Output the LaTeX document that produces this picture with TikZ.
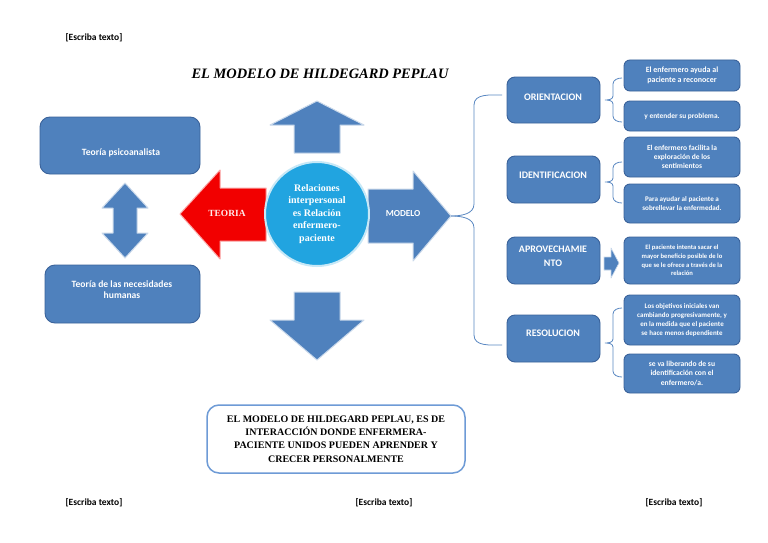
\documentclass[tikz,border=0pt]{standalone}
\usepackage{fontspec}
\setmainfont{Liberation Serif}
\newfontfamily\calfont{Carlito}
\definecolor{boxblue}{HTML}{4F81BD}
\definecolor{boxedge}{HTML}{3A629A}
\definecolor{circblue}{HTML}{21A4E0}
\definecolor{bracecol}{HTML}{5A88C2}
\definecolor{redarr}{HTML}{F20000}
\definecolor{framecol}{HTML}{6E9BD6}
\newcommand\fsz[2]{\fontsize{#1}{#2}\selectfont}
\tikzset{
  bluebox/.style={draw=boxedge, line width=0.9pt, fill=boxblue, rounded corners=#1,
    text=white, align=center, font=\calfont\bfseries, inner sep=1pt},
  boxtext/.style={text=white, align=center, inner sep=0pt},
  blockarrow/.style={fill=boxblue, draw=white!70!boxblue, line width=1pt, line join=round},
  redarrow/.style={fill=redarr, draw=white!65!redarr, line width=1pt, line join=round},
  bracesty/.style={draw=bracecol, line width=0.8pt},
  placeholder/.style={font=\calfont\bfseries\fsz{9.5}{11}, text=black, inner sep=0pt},
}
\newcommand\sbrace[3]{%
  \draw[bracesty] (622,#1) to[out=180,in=90] (613,#1+6) -- (613,#2-4) to[out=-90,in=0] (605,#2)
     to[out=0,in=90] (613,#2+4) -- (613,#3-6) to[out=-90,in=180] (622,#3);}
\begin{document}
\begin{tikzpicture}[x=1pt,y=-1pt]
\useasboundingbox (0,0) rectangle (768,543);
\fill[white] (0,0) rectangle (768,543);

% placeholders
\node[placeholder] (ph1) at (94,38) {[Escriba texto]};
\node[placeholder] (ph2) at (94,503) {[Escriba texto]};
\node[placeholder] (ph3) at (384,503) {[Escriba texto]};
\node[placeholder] (ph4) at (674,503) {[Escriba texto]};

% title
\node[font=\bfseries\itshape\fsz{14.4}{16}, inner sep=0pt, anchor=base] (title) at (320,78) {EL MODELO DE HILDEGARD PEPLAU};

% left boxes
\node[bluebox=10pt, minimum width=160pt, minimum height=57pt] (psico) at (120,145.5) {};
\node[boxtext, font=\calfont\bfseries\fsz{9.6}{12}] (psicot) at (121,153) {Teoría psicoanalista};
\node[bluebox=10pt, minimum width=155pt, minimum height=58pt] (necesid) at (122.5,294) {};
\node[boxtext, font=\calfont\bfseries\fsz{9.6}{11.5}] (necesidt) at (122,289.5) {Teoría de las necesidades\\humanas};

% double arrow between left boxes
\draw[blockarrow] (125,183) -- (148,208) -- (137,208) -- (137,233) -- (148,233) -- (125,258)
  -- (102,233) -- (113,233) -- (113,208) -- (102,208) -- cycle;

% up and down arrows
\draw[blockarrow] (294,153) -- (294,125) -- (270,125) -- (317,101) -- (364,125) -- (340,125) -- (340,153) -- cycle;
\draw[blockarrow] (294,292) -- (340,292) -- (340,320) -- (364,320) -- (317,360) -- (270,320) -- (294,320) -- cycle;

% red arrow TEORIA
\draw[redarrow] (180,214) -- (220,170) -- (220,188) -- (266,188) -- (266,241) -- (220,241) -- (220,259) -- cycle;
\node[font=\bfseries\fsz{9.4}{11}, text=white!92!red, inner sep=0pt] (teoria) at (227,213) {TEORIA};

% MODELO arrow
\draw[blockarrow] (368,189) -- (413,189) -- (413,171) -- (451,216) -- (413,261) -- (413,243) -- (368,243) -- cycle;
\coordinate (modtip) at (451,216);
\node[font=\calfont\bfseries\fsz{9.2}{10}, text=white, inner sep=0pt] (modelo) at (403,214) {MODELO};

% central circle
\node[circle, minimum size=104pt, inner sep=0pt, fill=circblue, draw=white!75!circblue, line width=2pt,
  text=white, align=center, font=\bfseries\fsz{10}{12.5}] (rel) at (317,214)
  {Relaciones\\interpersonal\\es Relación\\enfermero-\\paciente};

% bottom box
\node[draw=framecol, line width=1.5pt, rounded corners=12pt, fill=white, minimum width=258pt, minimum height=68pt,
  align=center, font=\bfseries\fsz{10}{13.3}, inner sep=2pt] (concl) at (336,439)
  {EL MODELO DE HILDEGARD PEPLAU, ES DE\\INTERACCIÓN DONDE ENFERMERA-\\PACIENTE UNIDOS PUEDEN APRENDER Y\\CRECER PERSONALMENTE};

% middle column
\node[bluebox=8pt, minimum width=93pt, minimum height=46pt] (orient) at (553.5,100) {};
\node[boxtext, font=\calfont\bfseries\fsz{10}{13}] (orientt) at (553,97) {ORIENTACION};
\node[bluebox=8pt, minimum width=93pt, minimum height=47pt] (ident) at (553.5,179.5) {};
\node[boxtext, font=\calfont\bfseries\fsz{10}{13}] (identt) at (553,175) {IDENTIFICACION};
\node[bluebox=8pt, minimum width=93pt, minimum height=47pt] (aprov) at (553.5,260.5) {};
\node[boxtext, font=\calfont\bfseries\fsz{10}{14}] (aprovt) at (553,256) {APROVECHAMIE\\NTO};
\node[bluebox=8pt, minimum width=93pt, minimum height=47pt] (resol) at (553.5,338.5) {};
\node[boxtext, font=\calfont\bfseries\fsz{10}{13}] (resolt) at (553,333) {RESOLUCION};

% right column
\node[bluebox=6pt, minimum width=116pt, minimum height=31pt, font=\calfont\bfseries\fsz{8}{10}] (a1) at (682,75.5) {El enfermero ayuda al\\paciente a reconocer};
\node[bluebox=6pt, minimum width=116pt, minimum height=30pt, font=\calfont\bfseries\fsz{7.4}{9}] (a2) at (682,116) {y entender su problema.};
\node[bluebox=6pt, minimum width=116pt, minimum height=40pt, font=\calfont\bfseries\fsz{7.5}{9.3}] (b1) at (682,157) {El enfermero facilita la\\exploración de los\\sentimientos};
\node[bluebox=6pt, minimum width=116pt, minimum height=39pt, font=\calfont\bfseries\fsz{7.1}{9.3}] (b2) at (682,203.5) {Para ayudar al paciente a\\sobrellevar la enfermedad.};
\node[bluebox=6pt, minimum width=116pt, minimum height=47pt, font=\calfont\bfseries\fsz{6.6}{8.8}] (c1) at (682,260.5) {El paciente intenta sacar el\\mayor beneficio posible de lo\\que se le ofrece a través de la\\relación};
\node[bluebox=6pt, minimum width=116pt, minimum height=50pt, font=\calfont\bfseries\fsz{7}{9}] (d1) at (682,320) {Los objetivos iniciales van\\cambiando progresivamente, y\\en la medida que el paciente\\se hace menos dependiente};
\node[bluebox=6pt, minimum width=116pt, minimum height=39pt, font=\calfont\bfseries\fsz{7.6}{9.2}] (d2) at (682,373.5) {se va liberando de su\\identificación con el\\enfermero/a.};

% small arrow aprov -> c1
\draw[blockarrow, line width=0.6pt] (604,257) -- (611,257) -- (611,248) -- (619,263) -- (611,278) -- (611,270) -- (604,270) -- cycle;

% big brace from MODELO tip
\draw[bracesty] (modtip) to[out=0,in=-90] (474,204) -- (474,105) to[out=90,in=180] (502,95);
\draw[bracesty] (modtip) to[out=0,in=90] (474,228) -- (474,335) to[out=-90,in=180] (502,345);

% small braces
\sbrace{78}{100}{122}
\sbrace{162}{182}{203}
\sbrace{308}{343}{377}
\end{tikzpicture}
\end{document}
